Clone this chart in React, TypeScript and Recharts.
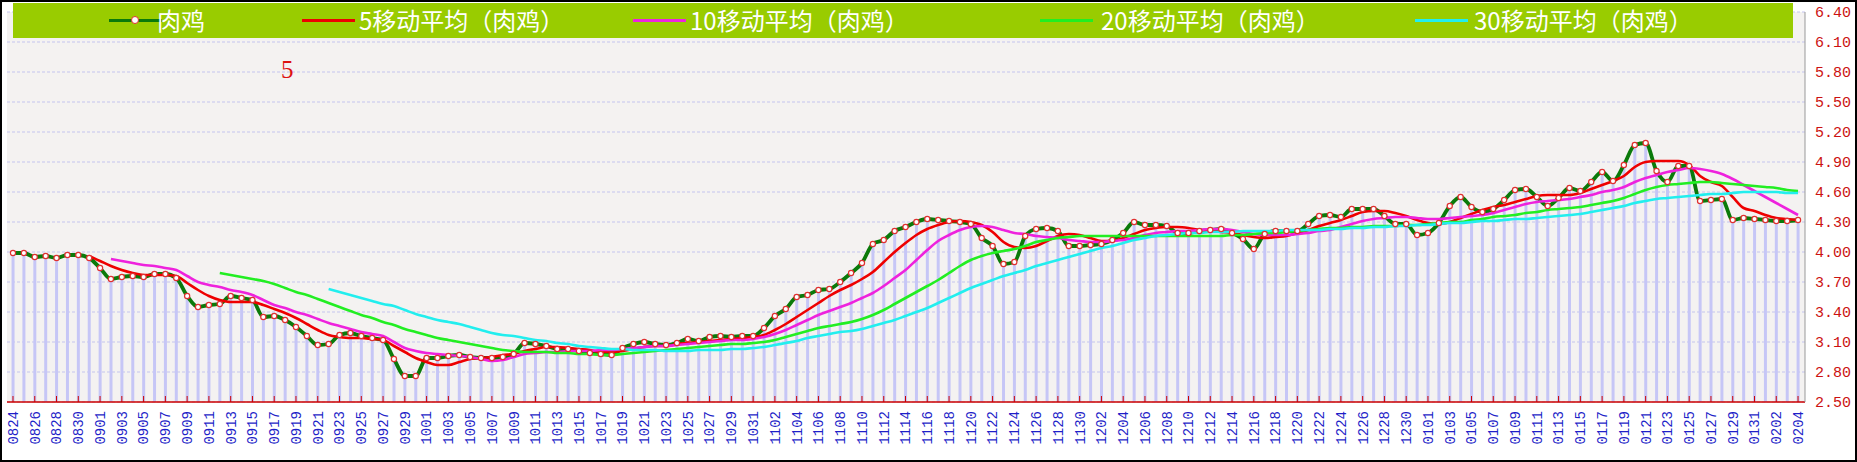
import React from 'react';
import { ComposedChart, Bar, Line, XAxis, YAxis, CartesianGrid } from 'recharts';

// ---- categories (daily, 0824 .. 0204) ----
const monthSpans: [string, number, number][] = [
  ['08', 24, 31], ['09', 1, 30], ['10', 1, 31], ['11', 1, 30], ['12', 1, 31], ['01', 1, 31], ['02', 1, 4],
];
const categories: string[] = [];
for (const [m, a, b] of monthSpans) for (let d = a; d <= b; d++) categories.push(m + String(d).padStart(2, '0'));

const yTicks = [2.5, 2.8, 3.1, 3.4, 3.7, 4.0, 4.3, 4.6, 4.9, 5.2, 5.5, 5.8, 6.1, 6.4];

// 肉鸡 daily price
const raw = [
  3.99, 3.99, 3.95, 3.96, 3.94, 3.97, 3.97, 3.94, 3.84, 3.73,
  3.75, 3.76, 3.75, 3.78, 3.78, 3.74, 3.56, 3.45, 3.47, 3.48,
  3.56, 3.54, 3.52, 3.35, 3.36, 3.32, 3.25, 3.16, 3.07, 3.08,
  3.17, 3.19, 3.16, 3.14, 3.12, 2.93, 2.76, 2.76, 2.94, 2.94,
  2.96, 2.97, 2.95, 2.94, 2.94, 2.95, 2.98, 3.09, 3.08, 3.06,
  3.03, 3.03, 3.01, 2.99, 2.98, 2.97, 3.04, 3.08, 3.10, 3.08,
  3.07, 3.09, 3.13, 3.11, 3.15, 3.16, 3.15, 3.16, 3.16, 3.24,
  3.36, 3.43, 3.55, 3.57, 3.62, 3.63, 3.70, 3.79, 3.89, 4.08,
  4.12, 4.21, 4.25, 4.30, 4.33, 4.32, 4.31, 4.30, 4.28, 4.14,
  4.06, 3.88, 3.90, 4.16, 4.23, 4.24, 4.21, 4.06, 4.06, 4.07,
  4.08, 4.12, 4.19, 4.30, 4.27, 4.27, 4.26, 4.19, 4.19, 4.21,
  4.22, 4.23, 4.19, 4.13, 4.03, 4.18, 4.21, 4.21, 4.21, 4.28,
  4.36, 4.37, 4.35, 4.43, 4.43, 4.43, 4.36, 4.28, 4.28, 4.17,
  4.19, 4.29, 4.46, 4.55, 4.45, 4.40, 4.43, 4.52, 4.62, 4.63,
  4.55, 4.46, 4.54, 4.64, 4.61, 4.70, 4.80, 4.71, 4.87, 5.07,
  5.09, 4.81, 4.70, 4.86, 4.86, 4.51, 4.52, 4.53, 4.32, 4.34,
  4.33, 4.32, 4.31, 4.31, 4.32,
];

// 5移动平均 (starts at index 7)
const ma5Start = 7;
const ma5 = [
  3.96, 3.91, 3.86, 3.82, 3.79, 3.77, 3.77, 3.77, 3.76, 3.69, 3.62, 3.56, 3.52, 3.50, 3.50, 3.50, 3.47, 3.43, 3.39, 3.34,
  3.28, 3.22, 3.17, 3.15, 3.14, 3.14, 3.13, 3.12, 3.06, 3.00, 2.94, 2.90, 2.87, 2.87, 2.90, 2.93, 2.94, 2.95, 2.97,
  2.98, 3.01, 3.03, 3.05, 3.05, 3.04, 3.03, 3.02, 3.00, 3.00, 3.01, 3.03, 3.05, 3.06, 3.06, 3.08, 3.09, 3.10, 3.11, 3.12,
  3.13, 3.14, 3.15, 3.17, 3.22, 3.28, 3.35, 3.42, 3.49, 3.56, 3.62,
  3.67, 3.73, 3.80, 3.90, 4.00, 4.09, 4.17, 4.23, 4.27, 4.30, 4.31, 4.30, 4.27, 4.20, 4.10, 4.05, 4.04, 4.06, 4.11, 4.16,
  4.18, 4.17, 4.14, 4.11, 4.11, 4.14, 4.18, 4.22, 4.24, 4.25, 4.25, 4.24, 4.22,
  4.21, 4.20, 4.19, 4.17, 4.15, 4.14, 4.15, 4.16, 4.19, 4.22, 4.26, 4.29, 4.32, 4.36, 4.40, 4.41, 4.41, 4.39, 4.36, 4.32,
  4.29, 4.28, 4.30, 4.34, 4.38, 4.42, 4.45, 4.47, 4.50, 4.53, 4.56, 4.57, 4.57, 4.57,
  4.59, 4.63, 4.67, 4.71, 4.76, 4.85, 4.90, 4.91, 4.91, 4.91, 4.87, 4.76, 4.70, 4.66, 4.55, 4.44, 4.41, 4.37, 4.34, 4.33, 4.32,
];

// 10移动平均 (starts at index 9)
const ma10Start = 9;
const ma10 = [
  3.93, 3.91, 3.89, 3.87, 3.86, 3.84, 3.82, 3.76, 3.70, 3.67, 3.65, 3.62, 3.60, 3.57, 3.52, 3.47, 3.44, 3.40, 3.37, 3.33,
  3.29, 3.26, 3.23, 3.20, 3.18, 3.16, 3.10, 3.04, 3.01, 2.99, 2.98, 2.97, 2.96, 2.95, 2.93, 2.91, 2.92, 2.95, 2.98, 2.99,
  3.00, 3.00, 3.01, 3.01, 3.01, 3.02, 3.02, 3.03, 3.04, 3.05, 3.06, 3.06, 3.07, 3.08, 3.09, 3.10, 3.11, 3.12, 3.12, 3.13,
  3.15, 3.18, 3.22, 3.27, 3.32, 3.37, 3.41, 3.45,
  3.49, 3.54, 3.59, 3.66, 3.74, 3.82, 3.92, 4.02, 4.11, 4.17, 4.22, 4.25, 4.26, 4.25, 4.22, 4.19, 4.18, 4.16, 4.15, 4.14,
  4.12, 4.11, 4.10, 4.10, 4.11, 4.12, 4.14, 4.17, 4.19, 4.20, 4.21, 4.21, 4.22,
  4.23, 4.23, 4.22, 4.20, 4.18, 4.17, 4.17, 4.17, 4.18, 4.19, 4.21, 4.22, 4.25, 4.28, 4.31, 4.33, 4.34, 4.35, 4.35, 4.34,
  4.33, 4.33, 4.34, 4.35, 4.36, 4.37, 4.39, 4.42, 4.45, 4.48, 4.50, 4.51, 4.52, 4.53,
  4.55, 4.57, 4.60, 4.62, 4.65, 4.70, 4.74, 4.77, 4.80, 4.82, 4.84, 4.83, 4.81, 4.78, 4.73, 4.67, 4.61, 4.55, 4.49, 4.43, 4.37,
];

// 20移动平均 (starts at index 19)
const ma20Start = 19;
const ma20 = [
  3.79, 3.77, 3.75, 3.73, 3.71, 3.68, 3.64, 3.60, 3.57, 3.53, 3.49, 3.45, 3.41, 3.37, 3.34, 3.30, 3.27, 3.23, 3.20, 3.17,
  3.14, 3.12, 3.10, 3.08, 3.06, 3.04, 3.02, 3.01, 3.00, 3.00, 3.00, 2.99, 2.99, 2.98, 2.98, 2.97, 2.97, 2.98, 2.99, 3.00,
  3.01, 3.02, 3.03, 3.04, 3.05, 3.06, 3.07, 3.08, 3.08, 3.09, 3.10, 3.12, 3.15, 3.18, 3.21, 3.24, 3.26, 3.28,
  3.30, 3.33, 3.37, 3.42, 3.48, 3.54, 3.60, 3.66, 3.72, 3.79, 3.86, 3.92, 3.96, 3.99, 4.01, 4.03, 4.06, 4.10, 4.12, 4.14,
  4.15, 4.16, 4.16, 4.16, 4.16, 4.16, 4.16, 4.16, 4.16, 4.16, 4.16, 4.16, 4.16,
  4.16, 4.16, 4.17, 4.17, 4.18, 4.19, 4.19, 4.20, 4.21, 4.22, 4.23, 4.24, 4.24, 4.25, 4.25, 4.26, 4.26, 4.26, 4.27, 4.27,
  4.28, 4.29, 4.30, 4.30, 4.32, 4.33, 4.35, 4.36, 4.37, 4.39, 4.40, 4.42, 4.43, 4.44,
  4.45, 4.47, 4.49, 4.51, 4.54, 4.58, 4.62, 4.65, 4.67, 4.68, 4.69, 4.70, 4.70, 4.69, 4.68, 4.67, 4.66, 4.65, 4.64, 4.62, 4.61,
];

// 30移动平均 (starts at index 29)
const ma30Start = 29;
const ma30 = [
  3.63, 3.60, 3.57, 3.54, 3.51, 3.48, 3.46, 3.42, 3.38, 3.35, 3.32, 3.30, 3.28, 3.25, 3.22, 3.19, 3.17, 3.16, 3.14, 3.12,
  3.11, 3.09, 3.08, 3.06, 3.05, 3.04, 3.03, 3.03, 3.02, 3.02, 3.02, 3.01, 3.01, 3.01, 3.02, 3.02, 3.02, 3.03, 3.03, 3.04,
  3.05, 3.07, 3.09, 3.11, 3.14, 3.16, 3.18, 3.20,
  3.21, 3.23, 3.26, 3.29, 3.32, 3.36, 3.40, 3.44, 3.49, 3.54, 3.59, 3.64, 3.68, 3.72, 3.76, 3.79, 3.82, 3.86, 3.89, 3.92,
  3.95, 3.98, 4.01, 4.04, 4.06, 4.09, 4.12, 4.14, 4.16, 4.17, 4.18, 4.19, 4.19,
  4.20, 4.20, 4.20, 4.21, 4.21, 4.21, 4.21, 4.22, 4.22, 4.22, 4.22, 4.23, 4.23, 4.24, 4.24, 4.25, 4.25, 4.26, 4.26, 4.27,
  4.27, 4.28, 4.29, 4.29, 4.30, 4.31, 4.31, 4.32, 4.33, 4.33, 4.34, 4.35, 4.36, 4.37,
  4.38, 4.40, 4.42, 4.44, 4.46, 4.49, 4.51, 4.53, 4.54, 4.55, 4.56, 4.57, 4.58, 4.58, 4.59, 4.60, 4.60, 4.60, 4.60, 4.59, 4.59,
];

const seriesNames = ['肉鸡', '5移动平均（肉鸡）', '10移动平均（肉鸡）', '20移动平均（肉鸡）', '30移动平均（肉鸡）'];
const seriesColors = ['#0a7a0a', '#ee0000', '#ee22dd', '#22ee22', '#22eeee'];

const pick = (arr: number[], start: number, i: number) => (i >= start && i - start < arr.length ? arr[i - start] : null);

const data = categories.map((c, i) => ({
  i,
  date: c,
  raw: raw[i],
  ma5: pick(ma5, ma5Start, i),
  ma10: pick(ma10, ma10Start, i),
  ma20: pick(ma20, ma20Start, i),
  ma30: pick(ma30, ma30Start, i),
}));

const xTicks = categories.map((_, i) => i).filter((i) => i % 2 === 0);

// ---- layout ----
const W = 1857;
const H = 462;
const MARGIN = { top: 12, right: 2, bottom: 5, left: 7 };
const X_AXIS_H = 55;
const Y_AXIS_W = 50;
const PLOT_LEFT = MARGIN.left;
const PLOT_BOTTOM = H - MARGIN.bottom - X_AXIS_H;

const XTick = (props: any) => {
  const { x, payload } = props;
  const label = categories[payload.value] ?? '';
  const ly = PLOT_BOTTOM + 9;
  return (
    <g>
      <line x1={x} x2={x} y1={PLOT_BOTTOM - 6} y2={PLOT_BOTTOM} stroke="#cc0000" strokeWidth={1} />
      <text
        x={x}
        y={ly}
        transform={`rotate(-90, ${x}, ${ly})`}
        textAnchor="end"
        dy="0.35em"
        fill="#1f1fc8"
        fontSize={14}
        fontFamily="'Liberation Mono', 'DejaVu Sans Mono', monospace"
      >
        {label}
      </text>
    </g>
  );
};

const LTick = (props: any) => (
  <line x1={PLOT_LEFT} x2={PLOT_LEFT + 7} y1={props.y} y2={props.y} stroke="#000" strokeWidth={1} />
);

const legendItems = [
  { lineX: 96, textX: 144 },
  { lineX: 289, textX: 346 },
  { lineX: 620, textX: 677 },
  { lineX: 1027, textX: 1088 },
  { lineX: 1402, textX: 1461 },
];

export default function App() {
  return (
    <div style={{ position: 'absolute', left: 0, top: 0, width: W, height: H, background: '#fff', overflow: 'hidden' }}>
      <ComposedChart width={W} height={H} data={data} margin={MARGIN}>
        <CartesianGrid
          yAxisId="R"
          vertical={false}
          stroke="#c4c4ee"
          strokeDasharray="3 2"
          fill="#f4f2f1"
          fillOpacity={1}
        />
        <XAxis
          dataKey="i"
          type="number"
          domain={[-0.55, 164.64]}
          allowDataOverflow
          ticks={xTicks}
          interval={0}
          height={X_AXIS_H}
          axisLine={{ stroke: '#cc0000', strokeWidth: 1.5 }}
          tickLine={false}
          tick={<XTick />}
        />
        <YAxis
          yAxisId="L"
          orientation="left"
          width={0}
          domain={[2.5, 6.4]}
          ticks={yTicks}
          allowDataOverflow
          axisLine={{ stroke: '#000', strokeWidth: 1.5 }}
          tickLine={false}
          tick={<LTick />}
        />
        <YAxis
          yAxisId="R"
          orientation="right"
          width={Y_AXIS_W}
          domain={[2.5, 6.4]}
          ticks={yTicks}
          allowDataOverflow
          interval={0}
          axisLine={{ stroke: '#999', strokeWidth: 1 }}
          tickLine={false}
          tickMargin={4}
          tickFormatter={(v: number) => v.toFixed(2)}
          tick={{ fill: '#cc1111', fontSize: 15, fontFamily: "'Liberation Mono', monospace" }}
        />
        <Bar yAxisId="R" dataKey="raw" barSize={3} fill="#c6c6f6" isAnimationActive={false} />
        <Line yAxisId="R" type="monotone" dataKey="raw" stroke={seriesColors[0]} strokeWidth={3.8}
          dot={{ r: 2.6, fill: '#fff', stroke: '#e03030', strokeWidth: 1.2 }} activeDot={false} isAnimationActive={false} />
        <Line yAxisId="R" type="monotone" dataKey="ma5" stroke={seriesColors[1]} strokeWidth={2.6} dot={false} activeDot={false} isAnimationActive={false} />
        <Line yAxisId="R" type="monotone" dataKey="ma10" stroke={seriesColors[2]} strokeWidth={2.6} dot={false} activeDot={false} isAnimationActive={false} />
        <Line yAxisId="R" type="monotone" dataKey="ma20" stroke={seriesColors[3]} strokeWidth={2.6} dot={false} activeDot={false} isAnimationActive={false} />
        <Line yAxisId="R" type="monotone" dataKey="ma30" stroke={seriesColors[4]} strokeWidth={2.6} dot={false} activeDot={false} isAnimationActive={false} />
      </ComposedChart>

      {/* legend */}
      <div style={{ position: 'absolute', left: 13, top: 3, width: 1780, height: 35, background: '#99cc00' }}>
        {seriesNames.map((name, k) => (
          <React.Fragment key={name}>
            <div style={{ position: 'absolute', left: legendItems[k].lineX, top: 16, width: 53, height: 3, background: seriesColors[k] }} />
            {k === 0 && (
              <div style={{ position: 'absolute', left: legendItems[k].lineX + 22, top: 13, width: 6, height: 6, borderRadius: 4, background: '#fff', border: '1px solid #e03030', boxSizing: 'content-box' }} />
            )}
            <div style={{ position: 'absolute', left: legendItems[k].textX, top: 2, fontSize: 24, lineHeight: '30px', color: '#fff', fontFamily: "'Noto Sans CJK SC', sans-serif", whiteSpace: 'nowrap' }}>
              {name}
            </div>
          </React.Fragment>
        ))}
      </div>

      {/* annotation */}
      <div style={{ position: 'absolute', left: 281, top: 57, fontSize: 25, lineHeight: 1, color: '#dd1111', fontFamily: "'Liberation Serif', serif" }}>5</div>

      {/* outer frame */}
      <div style={{ position: 'absolute', left: 0, top: 0, width: W, height: H, border: '2px solid #000', boxSizing: 'border-box', pointerEvents: 'none' }} />
    </div>
  );
}
